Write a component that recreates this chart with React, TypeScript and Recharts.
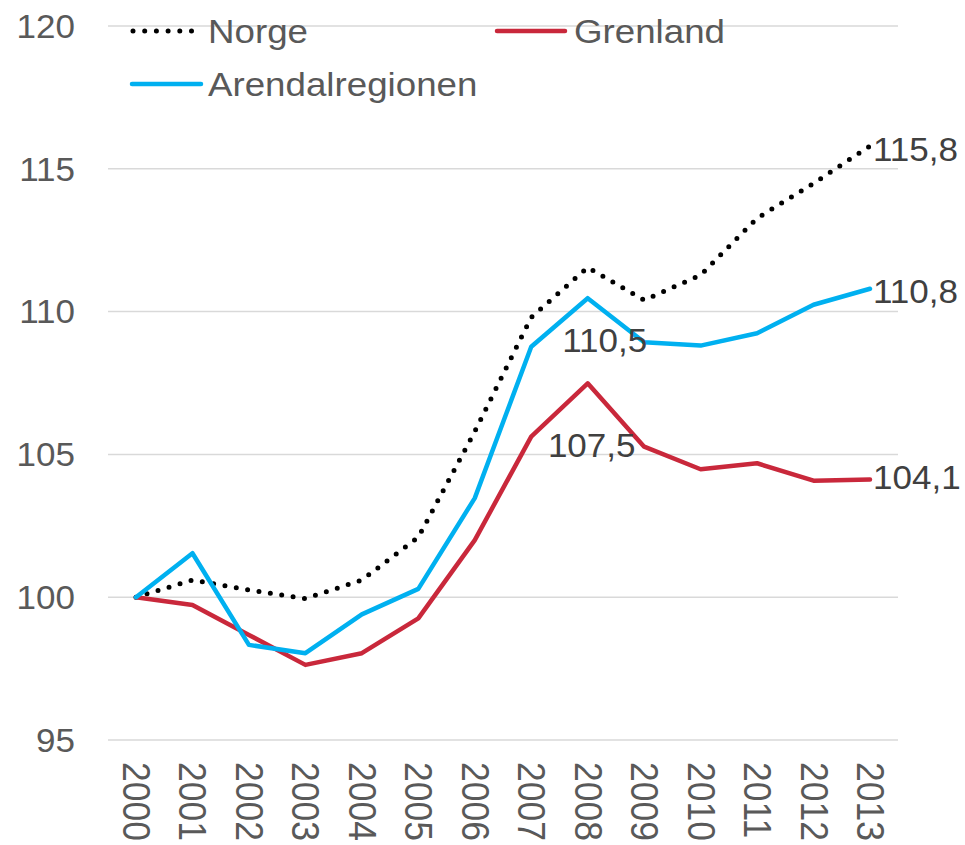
import React from "react";
import { LineChart, Line, XAxis, YAxis, CartesianGrid, LabelList } from "recharts";

const YEARS = ["2000", "2001", "2002", "2003", "2004", "2005", "2006", "2007", "2008", "2009", "2010", "2011", "2012", "2013"];
const NORGE = [100, 100.6, 100.25, 99.95, 100.6, 102.1, 105.8, 109.8, 111.55, 110.4, 111.28, 113.27, 114.49, 115.8];
const GRENLAND = [100, 99.73, 98.68, 97.63, 98.04, 99.26, 102.0, 105.62, 107.49, 105.27, 104.48, 104.69, 104.08, 104.12];
const ARENDAL = [100, 101.54, 98.33, 98.04, 99.4, 100.29, 103.47, 108.77, 110.47, 108.93, 108.81, 109.24, 110.24, 110.8];
const Y_TICKS = [95, 100, 105, 110, 115, 120];

const FONT = "'Liberation Sans', Arial, sans-serif";
const GREY = "#595959";
const RED = "#C9283B";
const BLUE = "#00B0F0";

const data = YEARS.map((year, i) => ({
  year,
  norge: NORGE[i],
  grenland: GRENLAND[i],
  arendal: ARENDAL[i],
}));

const fmt = (v: number) => v.toFixed(1).replace(".", ",");

// labels: last point to the right, 2008 peaks below the point
function makeLabel(offsets: Record<number, [number, number]>) {
  return (props: any) => {
    const { x, y, value, index } = props;
    const off = offsets[index];
    if (!off) return null;
    const isEnd = index === YEARS.length - 1;
    return (
      <text
        transform={`translate(${x + off[0]} ${y + off[1]}) scale(1.03 1)`}
        fill="#404040"
        fontSize={34}
        fontFamily={FONT}
        textAnchor={isEnd ? "start" : "middle"}
        dominantBaseline="central"
      >
        {fmt(value)}
      </text>
    );
  };
}

const XTick = (props: any) => {
  const { x, y, payload } = props;
  return (
    <text
      transform={`translate(${x} ${y}) scale(1.08 1) rotate(90)`}
      textAnchor="start"
      dominantBaseline="central"
      fill={GREY}
      fontSize={35.5}
      fontFamily={FONT}
    >
      {payload.value}
    </text>
  );
};

const YTick = (props: any) => {
  const { x, y, payload } = props;
  return (
    <text
      transform={`translate(${x} ${y}) scale(1.03 1)`}
      textAnchor="end"
      dominantBaseline="central"
      fill={GREY}
      fontSize={34}
      fontFamily={FONT}
    >
      {payload.value}
    </text>
  );
};

const legendText = (x: number, y: number, s: string) => (
  <text transform={`translate(${x} ${y}) scale(1.08 1)`} fill={GREY} fontSize={34} fontFamily={FONT}>
    {s}
  </text>
);

export default function App() {
  return (
    <div style={{ position: "absolute", left: 0, top: 0, width: 965, height: 845, background: "#fff" }}>
      <LineChart
        width={965}
        height={845}
        data={data}
        margin={{ top: 26, right: 67, bottom: 75, left: 0 }}
      >
        <CartesianGrid vertical={false} stroke="#D9D9D9" strokeWidth={1.5} />
        <XAxis
          dataKey="year"
          height={30}
          axisLine={false}
          tickLine={false}
          tickSize={0}
          tickMargin={22}
          interval={0}
          padding={{ left: 28, right: 28 }}
          tick={<XTick />}
        />
        <YAxis
          width={108}
          domain={[95, 120]}
          ticks={Y_TICKS}
          axisLine={false}
          tickLine={false}
          tickSize={0}
          tickMargin={33}
          tick={<YTick />}
        />
        <Line
          dataKey="norge"
          stroke="#000"
          strokeWidth={5}
          strokeDasharray="0 11.5"
          strokeLinecap="round"
          dot={false}
          isAnimationActive={false}
        >
          <LabelList dataKey="norge" content={makeLabel({ 13: [3, 3] })} />
        </Line>
        <Line
          dataKey="grenland"
          stroke={RED}
          strokeWidth={4.5}
          strokeLinejoin="round"
          strokeLinecap="round"
          dot={false}
          isAnimationActive={false}
        >
          <LabelList dataKey="grenland" content={makeLabel({ 8: [4, 62], 13: [3, -2] })} />
        </Line>
        <Line
          dataKey="arendal"
          stroke={BLUE}
          strokeWidth={4.5}
          strokeLinejoin="round"
          strokeLinecap="round"
          dot={false}
          isAnimationActive={false}
        >
          <LabelList dataKey="arendal" content={makeLabel({ 8: [17, 42], 13: [3, 2] })} />
        </Line>
      </LineChart>
      <svg
        width={965}
        height={110}
        style={{ position: "absolute", left: 0, top: 0, pointerEvents: "none" }}
      >
        <line x1={133} x2={193} y1={31} y2={31} stroke="#000" strokeWidth={5} strokeDasharray="0 11.7" strokeLinecap="round" />
        {legendText(208, 43, "Norge")}
        <line x1={497} x2={565} y1={31} y2={31} stroke={RED} strokeWidth={4.5} strokeLinecap="round" />
        {legendText(574, 43, "Grenland")}
        <line x1={132} x2={201} y1={84} y2={84} stroke={BLUE} strokeWidth={4.5} strokeLinecap="round" />
        {legendText(208, 96, "Arendalregionen")}
      </svg>
    </div>
  );
}
